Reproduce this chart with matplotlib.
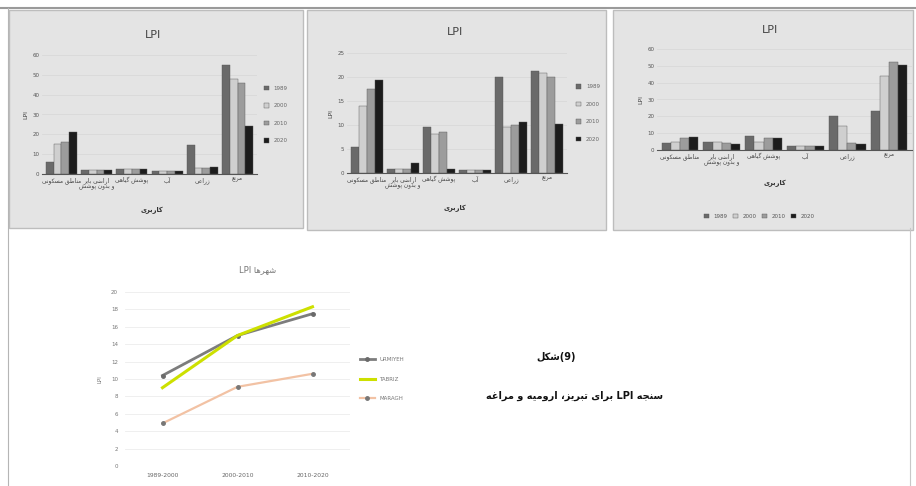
import matplotlib
matplotlib.use("Agg")
import matplotlib.pyplot as plt
import numpy as np
from matplotlib.patches import Rectangle
from matplotlib.lines import Line2D

# ---------------- data ----------------
categories = ["مناطق مسکونی", "اراضی بایر\nو بدون پوشش", "پوشش گیاهی", "آب", "زراعی", "مرتع"]
years = ["1989", "2000", "2010", "2020"]

urmia_bars = [[6, 2, 2.5, 1.5, 14.5, 55],
              [15, 2, 2.5, 1.5, 3, 48],
              [16, 2, 2.5, 1.5, 3, 46],
              [21, 2, 2.5, 1.5, 3.5, 24]]
tabriz_bars = [[5.5, 0.8, 9.5, 0.6, 20, 21.3],
               [14, 0.8, 8.2, 0.6, 9.5, 20.8],
               [17.5, 0.8, 8.5, 0.6, 10, 20.1],
               [19.3, 2.0, 0.8, 0.6, 10.7, 10.3]]
maragh_bars = [[4, 5, 8.3, 2.5, 20, 23],
               [5, 5, 5, 2.5, 14, 44],
               [7, 4, 7, 2.5, 4, 52],
               [7.5, 3.5, 7.4, 2.5, 3.6, 50.5]]

periods = ["1989-2000", "2000-2010", "2010-2020"]
line_names = ["URMIYEH", "TABRIZ", "MARAGH"]
urmia_lpi = [10.4, 15.0, 17.5]
tabriz_lpi = [9.0, 15.0, 18.3]
maragh_lpi = [4.9, 9.1, 10.6]

# ---------------- minimal Persian shaping ----------------
FORMS = {
    'ا': (0xFE8D, 0xFE8E, None, None), 'آ': (0xFE81, 0xFE82, None, None),
    'ب': (0xFE8F, 0xFE90, 0xFE91, 0xFE92), 'پ': (0xFB56, 0xFB57, 0xFB58, 0xFB59),
    'ت': (0xFE95, 0xFE96, 0xFE97, 0xFE98), 'ج': (0xFE9D, 0xFE9E, 0xFE9F, 0xFEA0),
    'د': (0xFEA9, 0xFEAA, None, None), 'ر': (0xFEAD, 0xFEAE, None, None),
    'ز': (0xFEAF, 0xFEB0, None, None), 'س': (0xFEB1, 0xFEB2, 0xFEB3, 0xFEB4),
    'ش': (0xFEB5, 0xFEB6, 0xFEB7, 0xFEB8), 'ض': (0xFEBD, 0xFEBE, 0xFEBF, 0xFEC0),
    'ط': (0xFEC1, 0xFEC2, 0xFEC3, 0xFEC4), 'ع': (0xFEC9, 0xFECA, 0xFECB, 0xFECC),
    'غ': (0xFECD, 0xFECE, 0xFECF, 0xFED0), 'ق': (0xFED5, 0xFED6, 0xFED7, 0xFED8),
    'ک': (0xFB8E, 0xFB8F, 0xFB90, 0xFB91), 'گ': (0xFB92, 0xFB93, 0xFB94, 0xFB95),
    'ل': (0xFEDD, 0xFEDE, 0xFEDF, 0xFEE0), 'م': (0xFEE1, 0xFEE2, 0xFEE3, 0xFEE4),
    'ن': (0xFEE5, 0xFEE6, 0xFEE7, 0xFEE8), 'و': (0xFEED, 0xFEEE, None, None),
    'ه': (0xFEE9, 0xFEEA, 0xFEEB, 0xFEEC), 'ی': (0xFBFC, 0xFBFD, 0xFBFE, 0xFBFF),
}


def shape_word(w):
    out = []
    n = len(w)
    for i, c in enumerate(w):
        if c not in FORMS:
            out.append(c)
            continue
        f = FORMS[c]
        prev = w[i - 1] if i > 0 else None
        nxt = w[i + 1] if i < n - 1 else None
        jp = prev in FORMS and FORMS[prev][2] is not None
        jn = nxt in FORMS and f[2] is not None
        if jp and jn:
            g = f[3]
        elif jp:
            g = f[1]
        elif jn:
            g = f[2]
        else:
            g = f[0]
        out.append(chr(g))
    return ''.join(out)[::-1]


def fa_line(text):
    res = []
    for w in text.split(' '):
        if any(c in FORMS for c in w):
            res.append(shape_word(w))
        else:
            res.append(w)
    return ' '.join(res[::-1])


def fa(text):
    return '\n'.join(fa_line(t) for t in text.split('\n'))


plt.rcParams['font.family'] = ['DejaVu Sans']

W, H = 916, 486
fig = plt.figure(figsize=(W / 100, H / 100), dpi=100)
fig.patch.set_facecolor('white')


def fx(x):
    return x / W


def fy(y):
    return 1 - y / H


def add_ax(x0, y0, x1, y1):
    return fig.add_axes([fx(x0), fy(y1), (x1 - x0) / W, (y1 - y0) / H])


# page frame lines
fig.add_artist(Line2D([fx(0), fx(916)], [fy(8), fy(8)], color='#9a9a9a', lw=1.5))
fig.add_artist(Line2D([fx(8), fx(8)], [fy(8), fy(486)], color='#b5b5b5', lw=0.8))
fig.add_artist(Line2D([fx(910), fx(910)], [fy(228), fy(486)], color='#c8c8c8', lw=0.8))

# panel backgrounds
for (x0, y0, x1, y1) in [(9, 10, 303, 228), (307, 10, 606, 230), (613, 10, 913, 230)]:
    fig.add_artist(Rectangle((fx(x0), fy(y1)), (x1 - x0) / W, (y1 - y0) / H,
                             transform=fig.transFigure, facecolor='#e4e4e4',
                             edgecolor='#bdbdbd', lw=1.0, zorder=0))

bar_colors = ['#6a6a6a', '#cfcfcf', '#9c9c9c', '#1c1c1c']


def bar_panel(box, data, ymax, yticks, title_xy, xt_xy):
    ax = add_ax(*box)
    ax.set_facecolor('none')
    x = np.arange(len(categories))
    w = 0.22
    for i, vals in enumerate(data):
        ax.bar(x + (i - 1.5) * w, vals, width=w, color=bar_colors[i],
               edgecolor='#555555', linewidth=0.3, label=years[i], zorder=3)
    ax.set_ylim(0, ymax)
    ax.set_xlim(-0.55, len(categories) - 0.45)
    ax.set_yticks(yticks)
    ax.set_yticklabels([str(t) for t in yticks], fontsize=4, color='#555555')
    ax.set_xticks(x)
    ax.set_xticklabels([fa(c) for c in categories], fontsize=4.2, color='#444444')
    ax.tick_params(length=0, pad=2)
    ax.grid(axis='y', color='#d6d6d6', lw=0.5, zorder=0)
    for s in ['top', 'right', 'left']:
        ax.spines[s].set_visible(False)
    ax.spines['bottom'].set_color('#555555')
    ax.spines['bottom'].set_linewidth(0.8)
    ax.set_ylabel('LPI', fontsize=4.5, color='#444444', labelpad=3)
    fig.text(fx(title_xy[0]), fy(title_xy[1]), 'LPI', fontsize=8, color='#444444',
             ha='center', va='center')
    fig.text(fx(xt_xy[0]), fy(xt_xy[1]), fa('کاربری'), fontsize=4.8, color='#333333',
             ha='center', va='center', fontweight='bold')
    return ax


ax1 = bar_panel((42, 55, 257, 174), urmia_bars, 60, [0, 10, 20, 30, 40, 50, 60],
                (153, 35), (152, 210))
ax1.legend(loc='center left', bbox_to_anchor=(1.01, 0.5), frameon=False,
           fontsize=4, handlelength=0.9, handleheight=0.9, labelspacing=2.2,
           labelcolor='#666666')

ax2 = bar_panel((347, 53, 567, 173), tabriz_bars, 25, [0, 5, 10, 15, 20, 25],
                (455, 32), (455, 208))
ax2.legend(loc='center left', bbox_to_anchor=(1.02, 0.5), frameon=False,
           fontsize=4, handlelength=0.9, handleheight=0.9, labelspacing=2.2,
           labelcolor='#666666')

ax3 = bar_panel((657, 49, 912, 150), maragh_bars, 60, [0, 10, 20, 30, 40, 50, 60],
                (770, 30), (775, 183))
ax3.legend(loc='upper center', bbox_to_anchor=(0.4, -0.58), frameon=False, ncol=4,
           fontsize=4, handlelength=0.9, handleheight=0.9, columnspacing=1.0,
           labelcolor='#555555')

# ---------------- line chart ----------------
axl = add_ax(125, 292, 350, 466)
axl.set_facecolor('white')
xl = np.arange(len(periods))
axl.plot(xl, urmia_lpi, color='#7d7d7d', lw=2, marker='o', ms=2.5,
         mfc='#6a6a6a', mec='#6a6a6a', label=line_names[0], zorder=3)
axl.plot(xl, tabriz_lpi, color='#cde000', lw=2.2, label=line_names[1], zorder=4)
axl.plot(xl, maragh_lpi, color='#f2c2a4', lw=1.6, marker='o', ms=2.5,
         mfc='#777777', mec='#777777', label=line_names[2], zorder=3)
axl.set_ylim(0, 20)
axl.set_xlim(-0.5, 2.5)
axl.set_yticks(range(0, 21, 2))
axl.set_yticklabels([str(t) for t in range(0, 21, 2)], fontsize=4, color='#777777')
axl.set_xticks(xl)
axl.set_xticklabels(periods, fontsize=4.3, color='#666666')
axl.tick_params(length=0, pad=5)
axl.grid(axis='y', color='#ececec', lw=0.6, zorder=0)
for s in axl.spines.values():
    s.set_visible(False)
axl.set_ylabel('LPI', fontsize=4, color='#777777', labelpad=6)
fig.text(fx(258), fy(270), 'LPI ' + fa('شهرها'), fontsize=6, color='#777777',
         ha='center', va='center')
axl.legend(loc='center left', bbox_to_anchor=(1.02, 0.5), frameon=False,
           fontsize=4, handlelength=2.8, labelspacing=2.6, labelcolor='#777777')

# caption
fig.text(fx(556), fy(357), fa('شکل') + '(9)', fontsize=7, fontweight='bold',
         ha='center', va='center', color='#111111')
fig.text(fx(574), fy(396), fa('سنجه LPI برای تبریز، ارومیه و مراغه'), fontsize=7,
         fontweight='bold', ha='center', va='center', color='#111111')

fig.savefig('out.png', dpi=100, facecolor='white')
